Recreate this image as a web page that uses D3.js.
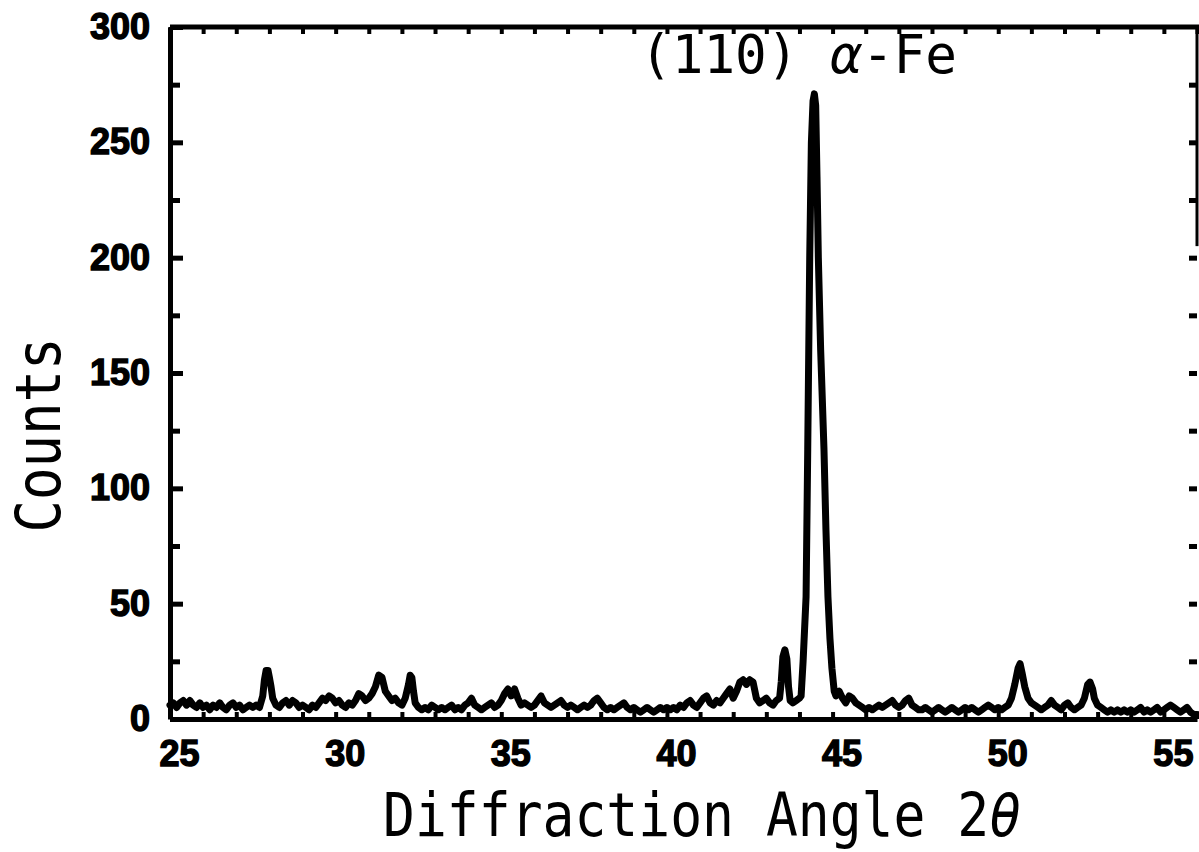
<!DOCTYPE html>
<html>
<head>
<meta charset="utf-8">
<script src="https://cdn.jsdelivr.net/npm/d3@7"></script>
<style>
    html, body { margin: 0; padding: 0; background: #fff; }
    svg { display: block; }
    .num-label { font-family: "Liberation Sans", Arial, sans-serif; font-weight: bold; font-size: 36px; fill: #000; stroke: #000; stroke-width: 1.4px; }
    .mono { font-family: "DejaVu Sans Mono", monospace; fill: #000; }
</style>
</head>
<body>
<svg id="chart" width="1199" height="852"></svg>
<script>
// XRD scan: [2theta (deg), counts]
const scan = [
    [25.0, 6], [25.1, 7], [25.2, 5], [25.3, 7], [25.4, 8], [25.5, 6], [25.6, 8], [25.7, 6], [25.8, 5], [25.9, 7],
    [26.0, 5], [26.1, 6], [26.2, 4], [26.3, 6], [26.4, 5], [26.5, 7], [26.6, 5], [26.7, 4], [26.8, 6], [26.9, 7],
    [27.0, 5], [27.1, 6], [27.2, 4], [27.3, 5], [27.4, 6], [27.5, 5], [27.6, 6], [27.7, 5], [27.8, 10], [27.85, 17],
    [27.9, 21], [27.96, 21], [28.0, 18], [28.05, 14], [28.1, 9], [28.2, 6], [28.3, 5], [28.4, 7], [28.5, 8], [28.6, 6],
    [28.7, 8], [28.8, 7], [28.9, 5], [29.0, 6], [29.1, 5], [29.2, 4], [29.3, 6], [29.4, 5], [29.5, 7], [29.6, 9],
    [29.7, 8], [29.8, 10], [29.9, 9], [30.0, 7], [30.1, 8], [30.2, 6], [30.3, 5], [30.4, 7], [30.5, 6], [30.6, 8],
    [30.7, 11], [30.8, 10], [30.9, 8], [31.0, 9], [31.1, 11], [31.2, 14], [31.3, 19], [31.4, 18], [31.5, 12], [31.6, 10],
    [31.7, 8], [31.8, 9], [31.9, 7], [32.0, 6], [32.1, 9], [32.2, 15], [32.25, 19], [32.3, 18], [32.35, 12], [32.4, 7],
    [32.5, 5], [32.6, 4], [32.7, 5], [32.8, 4], [32.9, 6], [33.0, 5], [33.1, 4], [33.2, 5], [33.3, 4], [33.4, 5],
    [33.5, 6], [33.6, 4], [33.7, 5], [33.8, 4], [33.9, 6], [34.0, 7], [34.1, 9], [34.2, 6], [34.3, 5], [34.4, 4],
    [34.5, 5], [34.6, 6], [34.7, 7], [34.8, 5], [34.9, 6], [35.0, 8], [35.1, 11], [35.2, 13], [35.3, 10], [35.4, 13],
    [35.5, 9], [35.6, 6], [35.7, 7], [35.8, 6], [35.9, 5], [36.0, 6], [36.1, 8], [36.2, 10], [36.3, 7], [36.4, 6],
    [36.5, 5], [36.6, 6], [36.7, 7], [36.8, 8], [36.9, 6], [37.0, 5], [37.1, 6], [37.2, 5], [37.3, 4], [37.4, 5],
    [37.5, 6], [37.6, 5], [37.7, 6], [37.8, 8], [37.9, 9], [38.0, 7], [38.1, 5], [38.2, 4], [38.3, 5], [38.4, 4],
    [38.5, 5], [38.6, 6], [38.7, 7], [38.8, 5], [38.9, 4], [39.0, 5], [39.1, 4], [39.2, 3], [39.3, 4], [39.4, 5],
    [39.5, 4], [39.6, 3], [39.7, 4], [39.8, 5], [39.9, 4], [40.0, 5], [40.1, 4], [40.2, 5], [40.3, 4], [40.4, 6],
    [40.5, 5], [40.6, 7], [40.7, 8], [40.8, 6], [40.9, 5], [41.0, 7], [41.1, 9], [41.2, 10], [41.3, 7], [41.4, 6],
    [41.5, 8], [41.6, 7], [41.7, 9], [41.8, 11], [41.9, 13], [42.0, 9], [42.1, 12], [42.2, 16], [42.3, 17], [42.4, 15],
    [42.5, 17], [42.6, 16], [42.7, 9], [42.8, 7], [42.9, 8], [43.0, 9], [43.1, 7], [43.2, 6], [43.3, 8], [43.4, 9],
    [43.45, 16], [43.5, 27], [43.56, 30], [43.62, 26], [43.67, 14], [43.72, 8], [43.8, 7], [43.9, 8], [44.0, 9], [44.05, 10],
    [44.11, 25], [44.2, 53], [44.25, 117], [44.31, 200], [44.36, 250], [44.41, 268], [44.45, 271], [44.49, 266], [44.53, 235], [44.57, 200],
    [44.64, 160], [44.74, 117], [44.8, 82], [44.86, 53], [44.92, 35], [44.98, 22], [45.05, 12], [45.1, 10], [45.2, 12], [45.3, 9],
    [45.4, 7], [45.5, 10], [45.6, 9], [45.7, 7], [45.8, 6], [45.9, 5], [46.0, 4], [46.1, 5], [46.2, 4], [46.3, 5],
    [46.4, 6], [46.5, 5], [46.6, 6], [46.7, 7], [46.8, 8], [46.9, 6], [47.0, 5], [47.1, 6], [47.2, 8], [47.3, 9],
    [47.4, 6], [47.5, 5], [47.6, 4], [47.7, 4], [47.8, 5], [47.9, 4], [48.0, 3], [48.1, 4], [48.2, 5], [48.3, 4],
    [48.4, 3], [48.5, 4], [48.6, 5], [48.7, 4], [48.8, 3], [48.9, 4], [49.0, 5], [49.1, 4], [49.2, 5], [49.3, 4],
    [49.4, 3], [49.5, 4], [49.6, 5], [49.7, 6], [49.8, 5], [49.9, 4], [50.0, 5], [50.1, 4], [50.2, 5], [50.3, 6],
    [50.4, 9], [50.5, 15], [50.6, 22], [50.66, 24], [50.72, 20], [50.8, 14], [50.9, 9], [51.0, 7], [51.1, 6], [51.2, 5],
    [51.3, 4], [51.4, 5], [51.5, 6], [51.6, 8], [51.7, 6], [51.8, 5], [51.9, 4], [52.0, 6], [52.1, 7], [52.2, 5],
    [52.3, 4], [52.4, 5], [52.5, 6], [52.6, 9], [52.7, 15], [52.77, 16], [52.85, 13], [52.9, 9], [53.0, 6], [53.1, 5],
    [53.2, 4], [53.3, 3], [53.4, 4], [53.5, 3], [53.6, 4], [53.7, 3], [53.8, 4], [53.9, 3], [54.0, 4], [54.1, 3],
    [54.2, 4], [54.3, 5], [54.4, 3], [54.5, 4], [54.6, 3], [54.7, 4], [54.8, 5], [54.9, 3], [55.0, 4], [55.1, 5],
    [55.2, 6], [55.3, 5], [55.4, 4], [55.5, 3], [55.6, 4], [55.7, 5], [55.8, 3], [55.9, 2], [56.0, 2]
];

const angleLabels = [25, 30, 35, 40, 45, 50, 55];
const countTicks = [0, 25, 50, 75, 100, 125, 150, 175, 200, 225, 250, 275, 300];
const peakLabel = "(110) ";
const phaseLabel = "α-Fe";

const svg = d3.select("#chart");

const x = d3.scaleLinear().domain([25, 56]).range([170, 1197]);
const y = d3.scaleLinear().domain([0, 300]).range([719, 27]);
const angleTicks = d3.range(25, 57);

// frame and ticks
const leftAxis = svg.append("g")
    .attr("transform", `translate(${x(25)},0)`)
    .call(d3.axisLeft(y)
        .tickValues(countTicks)
        .tickSize(-12)
        .tickSizeOuter(0)
        .tickPadding(20)
        .tickFormat(d => d % 50 === 0 ? d : ""));
leftAxis.select(".domain").attr("stroke-width", 5);
leftAxis.selectAll(".tick line").attr("stroke-width", 5)
    .attr("x2", d => d % 50 === 0 ? 13 : 10);
leftAxis.selectAll(".tick text").attr("class", "num-label");

const topAxis = svg.append("g")
    .attr("transform", `translate(0,${y(300)})`)
    .call(d3.axisTop(x).tickValues(angleTicks).tickSize(-7).tickSizeOuter(0).tickFormat(""));
topAxis.select(".domain").attr("stroke-width", 5).attr("d", `M${x(25)},0H1199`);
topAxis.selectAll(".tick line").attr("stroke-width", 4);

const rightAxis = svg.append("g")
    .attr("transform", `translate(${x(56)},0)`)
    .call(d3.axisLeft(y).tickValues(countTicks.slice(1, -1)).tickSize(8).tickSizeOuter(0).tickFormat(""));
rightAxis.select(".domain").attr("stroke-width", 3).attr("d", `M0,${y(300)}V${y(205)}`);
rightAxis.selectAll(".tick line").attr("stroke-width", 5);

const bottomAxis = svg.append("g")
    .attr("transform", `translate(0,${y(0)})`)
    .call(d3.axisBottom(x).tickValues(angleTicks).tickSize(-7).tickSizeOuter(0).tickFormat(""));
bottomAxis.select(".domain").attr("stroke-width", 5);
bottomAxis.selectAll(".tick line").attr("stroke-width", 4);

const bottomLabels = svg.append("g")
    .attr("transform", `translate(0,${y(0)})`)
    .call(d3.axisBottom(x).tickValues(angleLabels).tickSize(0).tickPadding(21));
bottomLabels.select(".domain").remove();
bottomLabels.selectAll(".tick text").attr("class", "num-label").attr("dx", 9);

// diffraction trace
svg.append("path")
    .datum(scan)
    .attr("fill", "none")
    .attr("stroke", "#000")
    .attr("stroke-width", 7)
    .attr("stroke-linejoin", "round")
    .attr("stroke-linecap", "round")
    .attr("d", d3.line().x(d => x(d[0])).y(d => y(d[1])));

// peak annotation
const note = svg.append("text")
    .attr("class", "mono")
    .attr("x", 640)
    .attr("y", 73)
    .attr("font-size", 53)
    .attr("textLength", 317)
    .attr("lengthAdjust", "spacingAndGlyphs");
note.append("tspan").text(peakLabel);
note.append("tspan").attr("font-style", "italic").text(phaseLabel.slice(0, 1));
note.append("tspan").text(phaseLabel.slice(1));

// axis titles (tall, narrow plotter lettering)
const xTitle = svg.append("text")
    .attr("class", "mono")
    .attr("transform", "translate(383,836) scale(1,1.15)")
    .attr("font-size", 53);
xTitle.append("tspan").text("Diffraction Angle 2");
xTitle.append("tspan").attr("font-style", "italic").text("θ");

svg.append("text")
    .attr("class", "mono")
    .attr("transform", "translate(60,435) rotate(-90) scale(1,1.15)")
    .attr("text-anchor", "middle")
    .attr("font-size", 54)
    .text("Counts");
</script>
</body>
</html>
